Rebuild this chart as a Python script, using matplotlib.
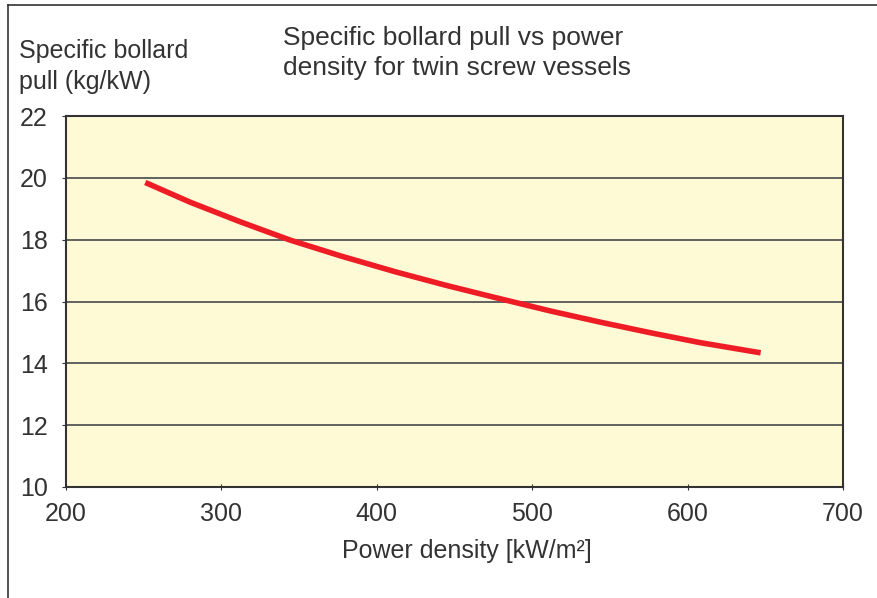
import matplotlib
matplotlib.use('Agg')
import matplotlib.pyplot as plt
from matplotlib.lines import Line2D

# values
power_density = [251, 280, 312, 344, 377, 412, 444, 476, 512, 544, 576, 608, 647]
bollard_pull = [19.85, 19.21, 18.58, 17.99, 17.47, 16.96, 16.53, 16.13, 15.69,
                15.33, 14.99, 14.67, 14.34]

x_ticks = [200, 300, 400, 500, 600, 700]
y_ticks = [10, 12, 14, 16, 18, 20, 22]

plt.rcParams['font.family'] = ['Liberation Sans', 'DejaVu Sans']
text_col = '#333333'

fig = plt.figure(figsize=(8.78, 5.98), dpi=100)
ax = fig.add_axes([66/878, 1 - 487/598, (843 - 66)/878, (487 - 116)/598])
ax.set_facecolor('#fffad6')

ax.plot(power_density, bollard_pull, color='#ee1c25', linewidth=4, solid_capstyle='butt')

ax.set_xlim(200, 700)
ax.set_ylim(10, 22)
ax.set_xticks(x_ticks)
ax.set_yticks(y_ticks)
ax.yaxis.grid(True, color='#555555', linewidth=1.3)
ax.set_axisbelow(True)
ax.tick_params(axis='y', direction='out', length=3, pad=10, labelsize=18,
               colors='#333333', labelcolor=text_col)
ax.tick_params(axis='x', direction='inout', length=5, pad=8, labelsize=18,
               colors='#333333', labelcolor=text_col)
for s in ax.spines.values():
    s.set_color('#333333')
    s.set_linewidth(1.5)

fig.text(19/878, 1 - 39/598, 'Specific bollard\npull (kg/kW)', ha='left', va='top',
         fontsize=18, color=text_col, linespacing=1.35)
fig.text(283/878, 1 - 26/598, 'Specific bollard pull vs power\ndensity for twin screw vessels',
         ha='left', va='top', fontsize=19, color=text_col, linespacing=1.3)
fig.text(467/878, 1 - 551/598, 'Power density [kW/m²]', ha='center', va='center',
         fontsize=18, color=text_col)

# outer frame lines (left and top only)
fig.add_artist(Line2D([8/878, 8/878], [0, 1 - 5/598], color='#333333', linewidth=1.2))
fig.add_artist(Line2D([8/878, 1], [1 - 5/598, 1 - 5/598], color='#333333', linewidth=1.2))

fig.savefig('out.png', dpi=100)
